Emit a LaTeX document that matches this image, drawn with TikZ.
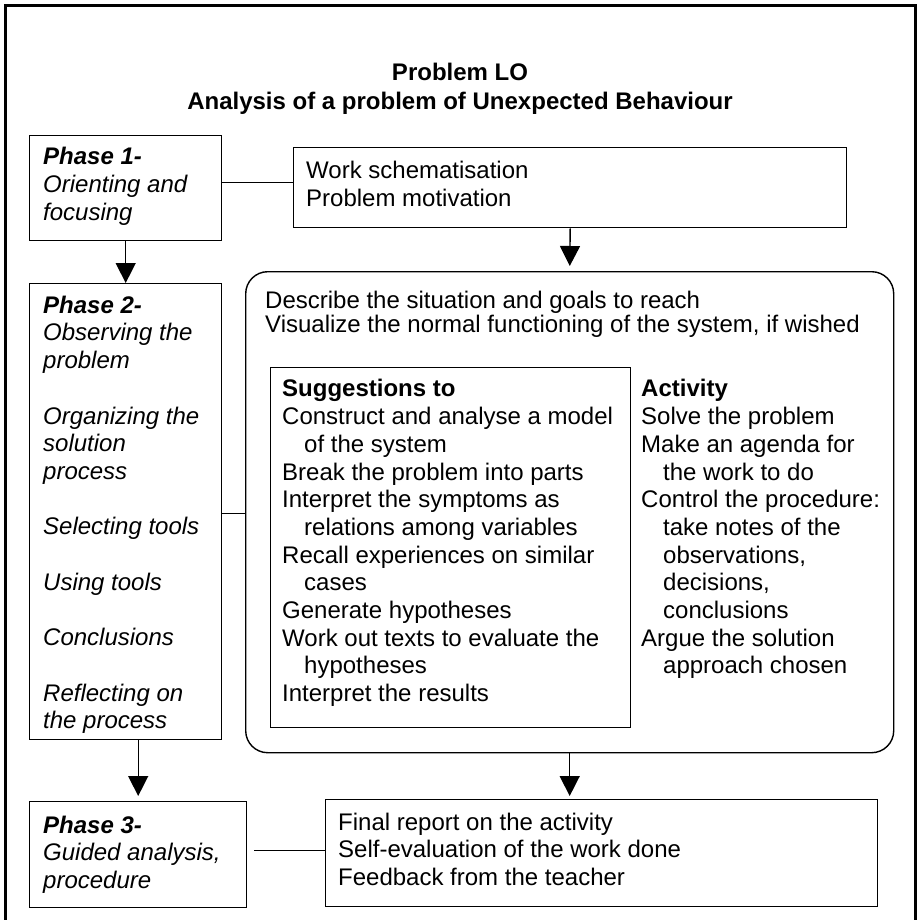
\documentclass[tikz,border=0pt]{standalone}
\usepackage{fontspec}
\setmainfont{Liberation Sans}
\usetikzlibrary{arrows.meta}

% fixed height above the first baseline of every text block
\newcommand{\firstln}{\rule{0pt}{18pt}}
\newcommand{\ind}{\hspace*{22pt}}

\begin{document}
\begin{tikzpicture}[x=1pt,y=-1pt,
  box/.style={draw, line width=1.4pt, inner sep=0pt, anchor=north west},
  txt/.style={inner sep=0pt, anchor=north west, align=left,
              font=\fontsize{24}{27.7}\selectfont},
  link/.style={line width=1.4pt},
  arr/.style={line width=1.4pt, -{Triangle[length=20pt,width=20pt]}}]

\clip (0,0) rectangle (918,920);
\useasboundingbox (0,0) rectangle (918,920);

% outer frame (runs off the lower edge)
\draw[line width=3pt] (5,930) -- (5,6) -- (915,6) -- (915,930);

% heading
\node[inner sep=0pt, anchor=north, align=center,
      font=\fontsize{24}{29.3}\selectfont\bfseries] (title) at (460,62)
  {\firstln Problem LO\\Analysis of a problem of Unexpected Behaviour};

% phase boxes
\node[box, minimum width=192pt, minimum height=105pt] (p1) at (29,135) {};
\node[txt] (p1t) at (43,146.5)
  {\firstln\textbf{\textit{Phase 1-}}\\\textit{Orienting and}\\\textit{focusing}};

\node[box, minimum width=192pt, minimum height=456pt] (p2) at (29,283) {};
\node[txt] (p2t) at (43,295)
  {\firstln\textbf{\textit{Phase 2-}}\\\textit{Observing the}\\\textit{problem}\\[27.7pt]
   \textit{Organizing the}\\\textit{solution}\\\textit{process}\\[27.7pt]
   \textit{Selecting tools}\\[27.7pt]
   \textit{Using tools}\\[27.7pt]
   \textit{Conclusions}\\[27.7pt]
   \textit{Reflecting on}\\\textit{the process}};

\node[box, minimum width=217pt, minimum height=106pt] (p3) at (29,801) {};
\node[txt] (p3t) at (43,815)
  {\firstln\textbf{\textit{Phase 3-}}\\\textit{Guided analysis,}\\\textit{procedure}};

% work box
\node[box, minimum width=553pt, minimum height=80pt] (work) at (293,147) {};
\node[txt] (workt) at (306,160.3)
  {\firstln Work schematisation\\Problem motivation};

% central rounded box
\node[box, rounded corners=22pt, minimum width=648pt, minimum height=481pt] (main) at (245,271) {};
\node[txt, font=\fontsize{24}{24}\selectfont] (maint) at (265,290)
  {\firstln Describe the situation and goals to reach\\
   Visualize the normal functioning of the system, if wished};

\node[box, minimum width=360pt, minimum height=360pt] (sugg) at (270,367) {};
\node[txt] (suggt) at (282,378.7)
  {\firstln\textbf{Suggestions to}\\
   Construct and analyse a model\\\ind of the system\\
   Break the problem into parts\\
   Interpret the symptoms as\\\ind relations among variables\\
   Recall experiences on similar\\\ind cases\\
   Generate hypotheses\\
   Work out texts to evaluate the\\\ind hypotheses\\
   Interpret the results};

\node[txt] (actt) at (641,378.7)
  {\firstln\textbf{Activity}\\
   Solve the problem\\
   Make an agenda for\\\ind the work to do\\
   Control the procedure:\\\ind take notes of the\\\ind observations,\\\ind decisions,\\\ind conclusions\\
   Argue the solution\\\ind approach chosen};

% final box
\node[box, minimum width=552pt, minimum height=107pt] (final) at (325,799) {};
\node[txt] (finalt) at (338,812)
  {\firstln Final report on the activity\\
   Self-evaluation of the work done\\
   Feedback from the teacher};

% connectors
\draw[link] ([yshift=5.5pt]p1.east) -- ([yshift=5.5pt]p1.east -| work.west);
\draw[link] ([yshift=-2pt]p2.east) -- ([yshift=-2pt]p2.east -| main.west);
\draw[link, shorten <=7pt] ([yshift=4pt]p3.east) -- ([yshift=4pt]p3.east -| final.west);

\draw[arr] (p1.south) -- (p2.north);
\draw[arr, shorten >=5pt] (work.south) -- (main.north);
\draw[arr, shorten >=5pt] (p3.north |- p2.south) -- (p3.north);
\draw[arr, shorten >=3pt] (main.south) -- (main.south |- final.north);
\end{tikzpicture}
\end{document}
